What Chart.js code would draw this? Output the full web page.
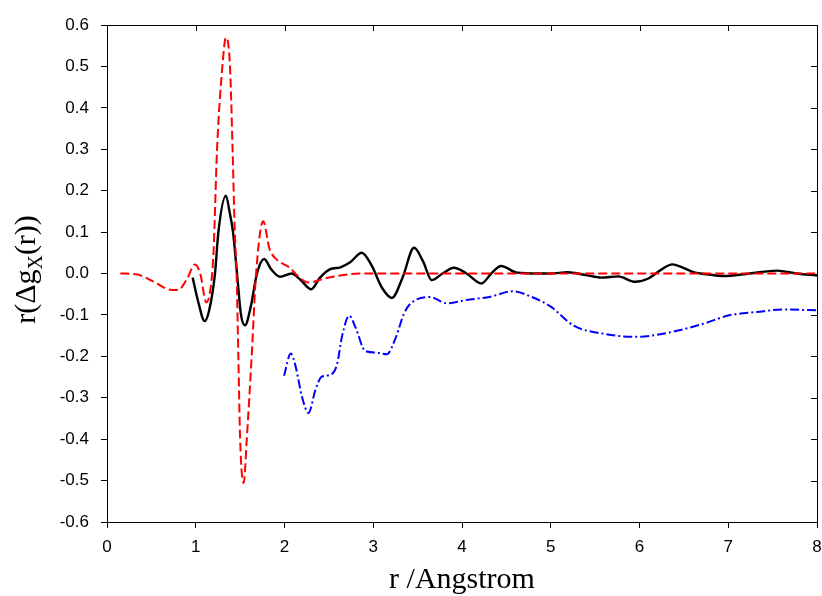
<!DOCTYPE html>
<html lang="en">
<head>
    <meta charset="UTF-8">
    <title>r(Δg_X(r)) vs r</title>
    <script src="https://cdn.jsdelivr.net/npm/chart.js@4.4.1/dist/chart.umd.min.js"></script>
    <style>
        html, body {
            margin: 0;
            padding: 0;
            background: #ffffff;
        }
        #wrap {
            width: 822px;
            height: 596px;
        }
    </style>
</head>
<body>
    <div id="wrap">
        <canvas id="rdfChart" width="822" height="596"></canvas>
    </div>

    <script>
        // values
        const redR = [0.15, 0.33, 0.52, 0.71, 0.80, 0.90, 0.99, 1.05, 1.12, 1.17, 1.20, 1.24, 1.30, 1.34, 1.386, 1.415, 1.44, 1.46, 1.48, 1.50, 1.54, 1.575, 1.63, 1.68, 1.76, 1.83, 1.91, 2.06, 2.17, 2.27, 2.45, 2.65, 2.85, 4.0, 6.0, 8.0];
        const redG = [0.0, -0.002, -0.019, -0.039, -0.040, -0.014, 0.022, 0.0, -0.07, -0.03, 0.05, 0.30, 0.50, 0.57, 0.50, 0.30, 0.10, 0.0, -0.20, -0.40, -0.506, -0.40, -0.20, 0.0, 0.126, 0.06, 0.034, 0.014, -0.01, -0.022, -0.012, -0.004, 0.0, 0.0, 0.0, 0.0];

        const blackR = [0.965, 1.03, 1.10, 1.15, 1.217, 1.255, 1.34, 1.38, 1.42, 1.465, 1.51, 1.555, 1.62, 1.69, 1.77, 1.85, 1.95, 2.08, 2.18, 2.30, 2.40, 2.51, 2.63, 2.74, 2.87, 2.98, 3.10, 3.21, 3.33, 3.46, 3.56, 3.66, 3.78, 3.91, 4.05, 4.22, 4.33, 4.44, 4.62, 4.85, 5.0, 5.19, 5.40, 5.57, 5.76, 5.95, 6.10, 6.25, 6.37, 6.48, 6.60, 6.80, 6.94, 7.24, 7.55, 7.77, 8.0];
        const blackG = [-0.01, -0.07, -0.115, -0.09, 0.0, 0.10, 0.188, 0.15, 0.10, 0.0, -0.10, -0.125, -0.08, 0.0, 0.035, 0.01, -0.008, 0.0, -0.015, -0.038, -0.01, 0.01, 0.015, 0.027, 0.05, 0.02, -0.035, -0.059, -0.01, 0.062, 0.03, -0.016, 0.0, 0.014, 0.0, -0.024, 0.0, 0.018, 0.002, 0.0, 0.0, 0.003, -0.004, -0.01, -0.007, -0.02, -0.012, 0.01, 0.022, 0.015, 0.004, -0.003, -0.006, 0.0, 0.007, 0.0, -0.005];

        const blueR = [1.995, 2.07, 2.12, 2.20, 2.27, 2.35, 2.42, 2.51, 2.59, 2.65, 2.73, 2.80, 2.91, 3.04, 3.15, 3.26, 3.34, 3.41, 3.64, 3.83, 4.05, 4.32, 4.57, 4.80, 5.0, 5.26, 5.61, 5.95, 6.25, 6.71, 7.01, 7.32, 7.62, 8.0];
        const blueG = [-0.247, -0.193, -0.22, -0.30, -0.337, -0.28, -0.249, -0.245, -0.221, -0.15, -0.102, -0.13, -0.187, -0.191, -0.195, -0.151, -0.10, -0.075, -0.057, -0.072, -0.064, -0.056, -0.043, -0.058, -0.08, -0.126, -0.146, -0.153, -0.146, -0.122, -0.101, -0.093, -0.087, -0.089];

        const xTitle = 'r /Angstrom';

        function toPoints(xs, ys) {
            return xs.map((x, i) => ({ x: x, y: ys[i] }));
        }

        // draws the top/right frame with inward ticks, plus the axis titles
        const framePlugin = {
            id: 'frame',
            afterDraw(chart) {
                const ctx = chart.ctx;
                const area = chart.chartArea;
                const xs = chart.scales.x;
                const ys = chart.scales.y;
                ctx.save();
                ctx.strokeStyle = '#000';
                ctx.lineWidth = 1;
                ctx.beginPath();
                ctx.moveTo(area.left, area.top + 0.5);
                ctx.lineTo(area.right + 0.5, area.top + 0.5);
                ctx.lineTo(area.right + 0.5, area.bottom);
                xs.ticks.forEach(t => {
                    const px = Math.round(xs.getPixelForValue(t.value)) + 0.5;
                    ctx.moveTo(px, area.top);
                    ctx.lineTo(px, area.top + 6);
                });
                ys.ticks.forEach(t => {
                    const py = Math.round(ys.getPixelForValue(t.value)) + 0.5;
                    ctx.moveTo(area.right, py);
                    ctx.lineTo(area.right - 6, py);
                });
                ctx.stroke();

                // x title
                ctx.fillStyle = '#000';
                ctx.font = '30px "Liberation Serif", "Times New Roman", serif';
                ctx.textAlign = 'center';
                ctx.textBaseline = 'alphabetic';
                ctx.fillText(xTitle, (area.left + area.right) / 2, 588);

                // y title with subscript X
                const big = '30px "Liberation Serif", "Times New Roman", serif';
                const small = '20px "Liberation Serif", "Times New Roman", serif';
                const parts = [['r(\u0394g', big, 0], ['X', small, 7], ['(r))', big, 0]];
                let total = 0;
                parts.forEach(p => { ctx.font = p[1]; total += ctx.measureText(p[0]).width; });
                ctx.translate(35, (area.top + area.bottom) / 2 - 4);
                ctx.rotate(-Math.PI / 2);
                ctx.textAlign = 'left';
                let cx = -total / 2;
                parts.forEach(p => {
                    ctx.font = p[1];
                    ctx.fillText(p[0], cx, p[2]);
                    cx += ctx.measureText(p[0]).width;
                });
                ctx.restore();
            }
        };

        const tickFont = { family: 'Arial, "Liberation Sans", sans-serif', size: 17 };

        const ctx = document.getElementById('rdfChart').getContext('2d');
        new Chart(ctx, {
            type: 'line',
            data: {
                datasets: [
                    {
                        label: 'red',
                        data: toPoints(redR, redG),
                        borderColor: '#ff0000',
                        borderWidth: 2,
                        borderDash: [9, 4],
                        pointRadius: 0,
                        cubicInterpolationMode: 'monotone',
                        fill: false
                    },
                    {
                        label: 'black',
                        data: toPoints(blackR, blackG),
                        borderColor: '#000000',
                        borderWidth: 2.4,
                        pointRadius: 0,
                        cubicInterpolationMode: 'monotone',
                        fill: false
                    },
                    {
                        label: 'blue',
                        data: toPoints(blueR, blueG),
                        borderColor: '#0000ff',
                        borderWidth: 2,
                        borderDash: [9, 3, 2, 3],
                        pointRadius: 0,
                        cubicInterpolationMode: 'monotone',
                        fill: false
                    }
                ]
            },
            options: {
                responsive: false,
                animation: false,
                layout: { padding: { top: 25, right: 5, left: 0, bottom: 0 } },
                plugins: {
                    legend: { display: false },
                    tooltip: { enabled: false }
                },
                scales: {
                    x: {
                        type: 'linear',
                        min: 0,
                        max: 8,
                        afterFit: s => { s.height = 74; s.paddingLeft = 0; s.paddingRight = 0; },
                        border: { display: true, color: '#000', width: 1 },
                        grid: { drawOnChartArea: false, drawTicks: true, tickLength: 6, color: '#000' },
                        ticks: { stepSize: 1, color: '#000', font: tickFont, padding: 9, maxRotation: 0 }
                    },
                    y: {
                        min: -0.6,
                        max: 0.6,
                        afterFit: s => { s.width = 107; s.paddingTop = 0; s.paddingBottom = 0; },
                        border: { display: true, color: '#000', width: 1 },
                        grid: { drawOnChartArea: false, drawTicks: true, tickLength: 6, color: '#000' },
                        ticks: {
                            stepSize: 0.1,
                            color: '#000',
                            font: tickFont,
                            padding: 12,
                            callback: v => v.toFixed(1)
                        }
                    }
                }
            },
            plugins: [framePlugin]
        });
    </script>
</body>
</html>
